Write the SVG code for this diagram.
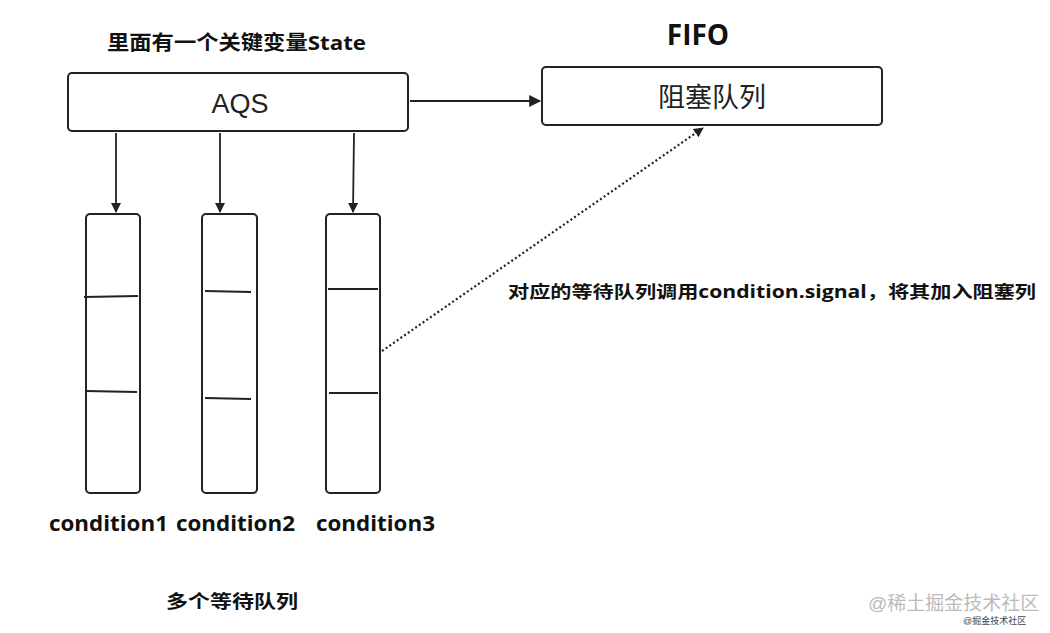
<svg xmlns="http://www.w3.org/2000/svg" width="1050" height="633" viewBox="0 0 1050 633">
<style>
.box{fill:#fff;stroke:#222;stroke-width:2}
.ln{stroke:#222;stroke-width:1.8;fill:none}
.b{font-family:"Open Sans","Noto Sans CJK SC",sans-serif;font-weight:bold;fill:#111}
.n{font-family:"Liberation Sans","Noto Sans CJK SC",sans-serif;fill:#222}
</style>
<defs>
<marker id="a" viewBox="0 0 10 10" refX="9" refY="5" markerWidth="10" markerHeight="10" orient="auto" markerUnits="userSpaceOnUse"><path d="M0,0L10,5L0,10z" fill="#222"/></marker>
<marker id="a2" viewBox="0 0 10 10" refX="9" refY="5" markerWidth="14" markerHeight="12" orient="auto" markerUnits="userSpaceOnUse"><path d="M0,0L10,5L0,10z" fill="#222"/></marker>
</defs>
<rect width="1050" height="633" fill="#fff"/>
<text class="b" x="107" y="50" font-size="20" textLength="259" lengthAdjust="spacingAndGlyphs">里面有一个关键变量State</text>
<text class="b" x="698" y="45" font-size="28" text-anchor="middle">FIFO</text>
<g id="aqs"><rect class="box" x="68" y="73" width="340" height="58" rx="4"/><text class="n" x="240" y="113" font-size="27" text-anchor="middle">AQS</text></g>
<g id="block"><rect class="box" x="542" y="67" width="340" height="58" rx="4"/><text class="n" x="712" y="107" font-size="27" text-anchor="middle">阻塞队列</text></g>
<g id="c1"><rect class="box" x="86" y="214" width="54" height="279" rx="4"/><path class="ln" d="M84 297L138 296M86 391L137 392"/></g>
<g id="c2"><rect class="box" x="202" y="214" width="55" height="279" rx="4"/><path class="ln" d="M205 291L251 292M205 398L251 399"/></g>
<g id="c3"><rect class="box" x="326" y="214" width="54" height="279" rx="4"/><path class="ln" d="M328 289L378 289M329 393L378 393"/></g>
<g id="connectors">
<path class="ln" d="M410 101L540 101" marker-end="url(#a2)"/>
<path class="ln" d="M116 133L116 212" marker-end="url(#a)"/>
<path class="ln" d="M220 133L220 212" marker-end="url(#a)"/>
<path class="ln" d="M354 133L353 212" marker-end="url(#a)"/>
<path d="M382 351L703 128" stroke="#222" stroke-width="2.2" stroke-dasharray="2 2.5" fill="none" marker-end="url(#a)"/>
</g>
<text class="b" x="508" y="298" font-size="17" textLength="528" lengthAdjust="spacingAndGlyphs">对应的等待队列调用condition.signal，将其加入阻塞列</text>
<text class="b" x="49" y="531" font-size="21" textLength="119" lengthAdjust="spacingAndGlyphs">condition1</text>
<text class="b" x="176" y="531" font-size="21" textLength="119" lengthAdjust="spacingAndGlyphs">condition2</text>
<text class="b" x="316" y="531" font-size="21" textLength="119" lengthAdjust="spacingAndGlyphs">condition3</text>
<text class="b" x="166" y="608" font-size="18" textLength="132" lengthAdjust="spacingAndGlyphs">多个等待队列</text>
<text class="n" x="868" y="610" font-size="19" style="fill:#bbb">@稀土掘金技术社区</text>
<text class="n" x="963" y="624" font-size="9" style="fill:#444">@掘金技术社区</text>
</svg>
